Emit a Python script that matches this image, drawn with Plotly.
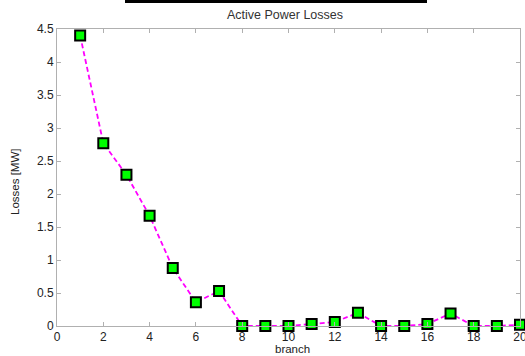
import plotly.graph_objects as go

branch = list(range(1, 21))
losses = [4.40, 2.77, 2.29, 1.67, 0.88, 0.36, 0.53, 0.0, 0.0, 0.0,
          0.03, 0.06, 0.20, 0.0, 0.0, 0.03, 0.19, 0.0, 0.0, 0.02]
x_ticks = [0, 2, 4, 6, 8, 10, 12, 14, 16, 18, 20]
y_ticks = [0, 0.5, 1, 1.5, 2, 2.5, 3, 3.5, 4, 4.5]
y_ticktext = ["0", "0.5", "1", "1.5", "2", "2.5", "3", "3.5", "4", "4.5"]

W, H = 525, 356
L, R, T, B = 57, 5, 29, 30
PW, PH = W - L - R, H - T - B
FONT = "Liberation Sans, Arial"

def px(x):
    return (x - L) / PW

def py(y):
    return (H - B - y) / PH

fig = go.Figure()
fig.add_trace(go.Scatter(
    x=branch, y=losses, mode="lines+markers",
    line=dict(color="#ff00ff", width=1.8, dash="5px,3px"),
    marker=dict(symbol="square", size=10, color="#00ff00",
                line=dict(color="black", width=2)),
    cliponaxis=False, showlegend=False))

axis_common = dict(showgrid=False, zeroline=False, showline=True,
                   linecolor="#b0b0b0", linewidth=1, mirror="ticks",
                   ticks="inside", ticklen=4, tickcolor="#b0b0b0",
                   automargin=False, ticklabeloverflow="allow",
                   tickfont=dict(family=FONT, size=12, color="#222"))

fig.update_layout(
    width=W, height=H,
    margin=dict(l=L, r=R, t=T, b=B),
    paper_bgcolor="white", plot_bgcolor="white",
    xaxis=dict(range=[0, 20], tickvals=x_ticks, **axis_common),
    yaxis=dict(range=[0, 4.5], tickvals=y_ticks, ticktext=y_ticktext, **axis_common),
    shapes=[dict(type="line", xref="paper", yref="paper",
                 x0=px(125), x1=px(427), y0=py(1.5), y1=py(1.5),
                 line=dict(color="black", width=3))],
    annotations=[
        dict(text="Active Power Losses", xref="paper", yref="paper",
             x=px(285), y=py(15), xanchor="center", yanchor="middle",
             showarrow=False, font=dict(family=FONT, size=12.5, color="#333")),
        dict(text="branch", xref="paper", yref="paper",
             x=px(292), y=py(349), xanchor="center", yanchor="middle",
             showarrow=False, font=dict(family=FONT, size=11.5, color="#222")),
        dict(text="Losses [MW]", xref="paper", yref="paper",
             x=px(15), y=py(182), xanchor="center", yanchor="middle",
             textangle=-90, showarrow=False,
             font=dict(family=FONT, size=11.5, color="#222")),
    ],
)

fig.write_html("out.html", config={"displayModeBar": False},
               post_script="document.body.style.margin='0';document.body.style.overflow='hidden';")
